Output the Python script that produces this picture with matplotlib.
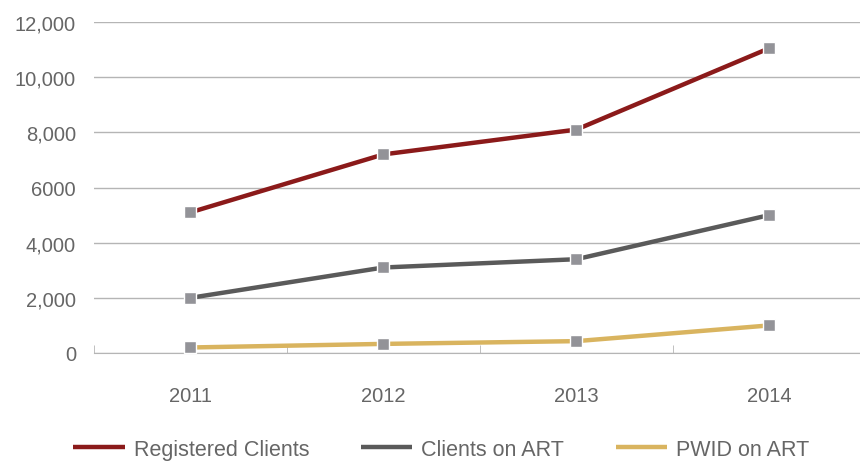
import matplotlib
matplotlib.use("Agg")
import matplotlib.pyplot as plt
from matplotlib.ticker import FixedLocator

plt.rcParams['font.family'] = ['Liberation Sans', 'DejaVu Sans']

years = ["2011", "2012", "2013", "2014"]
registered = [5100, 7200, 8100, 11050]
on_art = [2000, 3100, 3400, 5000]
pwid_on_art = [200, 330, 430, 1000]
ytick_vals = [0, 2000, 4000, 6000, 8000, 10000, 12000]
ytick_labels = ["0", "2,000", "4,000", "6000", "8,000", "10,000", "12,000"]

series = [
    ("Registered Clients", registered, "#8b1a1a"),
    ("Clients on ART", on_art, "#5a5a5a"),
    ("PWID on ART", pwid_on_art, "#d9b45f"),
]

fig = plt.figure(figsize=(8.6, 4.64), dpi=100)
ax = fig.add_axes([94 / 860, 110 / 464, 1 - 94 / 860, 331 / 464])

x = list(range(len(years)))
for name, vals, color in series:
    ax.plot(x, vals, color=color, lw=3.2, label=name, zorder=3,
            solid_capstyle="butt")
    ax.plot(x, vals, ls="none", marker="s", ms=9, mfc="#939398",
            mec="white", mew=1, zorder=4)

ax.set_ylim(0, 12000)
ax.set_xlim(-0.5, 3.47)
ax.set_yticks(ytick_vals)
ax.set_yticklabels(ytick_labels)
ax.set_xticks(x)
ax.set_xticklabels(years)
ax.xaxis.set_minor_locator(FixedLocator([-0.5, 0.5, 1.5, 2.5]))

ax.grid(axis="y", color="#b5b5b5", lw=1)
ax.set_axisbelow(True)
for s in ["top", "right", "left"]:
    ax.spines[s].set_visible(False)
ax.spines["bottom"].set_color("#b5b5b5")

ax.tick_params(axis="y", length=0, pad=13, labelsize=14.5, labelcolor="#666666")
ax.tick_params(axis="x", which="major", length=0, pad=24, labelsize=14.5,
               labelcolor="#666666")
ax.tick_params(axis="x", which="minor", direction="in", length=6,
               color="#b5b5b5")

fig.legend(loc="lower center", bbox_to_anchor=(0.513, -0.035), ncol=3,
           frameon=False, fontsize=15.5, labelcolor="#666666",
           handlelength=2.4, handletextpad=0.4, columnspacing=2.4)

fig.savefig("out.png", dpi=100)
